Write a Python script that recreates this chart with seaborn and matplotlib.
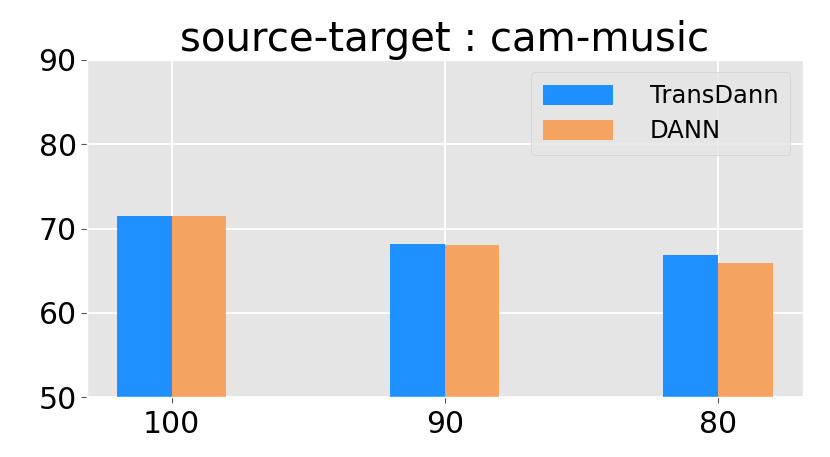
import matplotlib
matplotlib.use("Agg")
import matplotlib.pyplot as plt
import pandas as pd
import seaborn as sns

# values
ratios = ["100", "90", "80"]
transdann = [71.5, 68.2, 66.8]
dann = [71.5, 68.0, 65.9]

df = pd.DataFrame({
    "ratio": ratios * 2,
    "acc": transdann + dann,
    "model": ["TransDann"] * 3 + ["DANN"] * 3,
})

plt.style.use("ggplot")
plt.rcParams["font.family"] = ["DejaVu Sans"]

fig, ax = plt.subplots(figsize=(8.3, 4.57), dpi=100)
fig.subplots_adjust(left=0.105, right=0.967, top=0.869, bottom=0.131)

sns.barplot(data=df, x="ratio", y="acc", hue="model", order=ratios,
            palette={"TransDann": "dodgerblue", "DANN": "sandybrown"},
            width=0.4, gap=0, saturation=1, ax=ax)

ax.set_ylim(50, 90)
ax.set_yticks([50, 60, 70, 80, 90])
ax.set_xlim(-0.31, 2.31)
ax.set_xlabel("")
ax.set_ylabel("")
ax.set_title("source-target : cam-music", fontsize=29, color="black", pad=5)
ax.tick_params(axis="both", labelsize=21.5, labelcolor="black", length=4)
ax.tick_params(axis="x", pad=5)
ax.grid(True, color="white", linewidth=1.3)
ax.set_axisbelow(True)

leg = ax.legend(loc="upper right", fontsize=17.5, handlelength=2.9, handleheight=0.9,
                labelspacing=0.45, borderpad=0.5, handletextpad=1.5, title=None)
leg.get_frame().set_edgecolor("#cccccc")

fig.savefig("out.png")
